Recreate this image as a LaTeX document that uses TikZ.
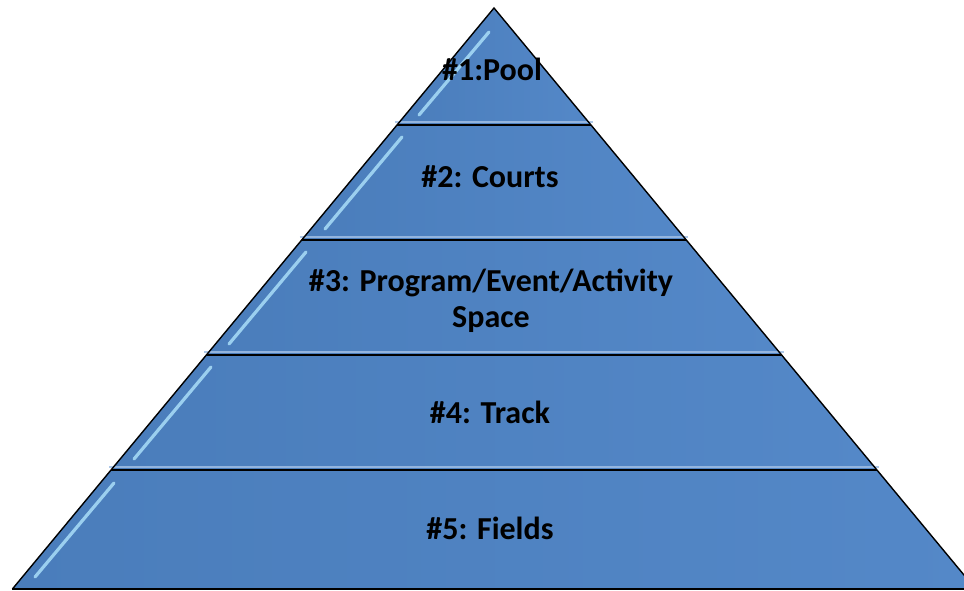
\documentclass[tikz,border=0pt]{standalone}
\usepackage{fontspec}
\setmainfont{Carlito}
\definecolor{pyrblue}{RGB}{74,125,187}
\definecolor{pyrlight}{RGB}{84,136,200}
\definecolor{glosscyan}{RGB}{175,228,252}
\definecolor{sheen}{RGB}{160,190,228}
\begin{document}
\begin{tikzpicture}[x=1pt,y=-1pt,
  band/.style={left color=pyrblue, right color=pyrlight, shading angle=90, draw=none},
  gloss/.style={draw=glosscyan, line width=3.2pt, line cap=round, opacity=0.8},
  topsheen/.style={draw=sheen, line width=2.5pt, opacity=0.85},
  edge/.style={draw=black, line width=1.4pt, line join=miter},
  lbl/.style={font=\bfseries\fontsize{32}{36}\selectfont, text=black, anchor=base, inner sep=0pt}]
\useasboundingbox (0,0) rectangle (964,590);
\clip (0,0) rectangle (964,590);
% corner coordinates
\coordinate (apex) at (494,8);
\coordinate (l1) at (397.0,125); \coordinate (r1) at (591.0,125);
\coordinate (l2) at (301.6,240); \coordinate (r2) at (686.4,240);
\coordinate (l3) at (206.3,355); \coordinate (r3) at (781.7,355);
\coordinate (l4) at (111.0,470); \coordinate (r4) at (877.0,470);
\coordinate (l5) at (12.4,589);  \coordinate (r5) at (975.6,589);
% band fills
\shade[band] (apex) -- (r1) -- (l1) -- cycle;
\shade[band] (l1) -- (r1) -- (r2) -- (l2) -- cycle;
\shade[band] (l2) -- (r2) -- (r3) -- (l3) -- cycle;
\shade[band] (l3) -- (r3) -- (r4) -- (l4) -- cycle;
\shade[band] (l4) -- (r4) -- (r5) -- (l5) -- cycle;
% top sheen of each band
\draw[topsheen] ([xshift=-2pt,yshift=3pt]l1) -- ([xshift=2pt,yshift=3pt]r1);
\draw[topsheen] ([xshift=-2pt,yshift=3pt]l2) -- ([xshift=2pt,yshift=3pt]r2);
\draw[topsheen] ([xshift=-2pt,yshift=3pt]l3) -- ([xshift=2pt,yshift=3pt]r3);
\draw[topsheen] ([xshift=-2pt,yshift=3pt]l4) -- ([xshift=2pt,yshift=3pt]r4);
\draw[topsheen] ([yshift=-3pt]l5) -- ([yshift=-3pt]r5);
% gloss streaks along the left edge
\coordinate (g1a) at (489,32);  \coordinate (g1b) at (419,115);
\coordinate (g2a) at (402,137); \coordinate (g2b) at (325,229);
\coordinate (g3a) at (306,252); \coordinate (g3b) at (229,344);
\coordinate (g4a) at (211,367); \coordinate (g4b) at (134,459);
\coordinate (g5a) at (114,483); \coordinate (g5b) at (35,577);
\draw[gloss] (g1a) -- (g1b);
\draw[gloss] (g2a) -- (g2b);
\draw[gloss] (g3a) -- (g3b);
\draw[gloss] (g4a) -- (g4b);
\draw[gloss] (g5a) -- (g5b);
% outlines
\draw[edge] (l5) -- (apex) -- (r5);
\draw[edge] (l1) -- (r1);
\draw[edge] (l2) -- (r2);
\draw[edge] (l3) -- (r3);
\draw[edge] (l4) -- (r4);
\draw[edge] (l5) -- (r5);
% labels
\node[lbl] (t1) at (492,80) {\#1:Pool};
\node[lbl] (t2) at (490,187) {\#2: Courts};
\node[lbl] (t3a) at (491,291) {\#3: Program/Event/Activity};
\node[lbl] (t3b) at (491,327) {Space};
\node[lbl] (t4) at (490,423) {\#4: Track};
\node[lbl] (t5) at (490,539) {\#5: Fields};
\end{tikzpicture}
\end{document}
